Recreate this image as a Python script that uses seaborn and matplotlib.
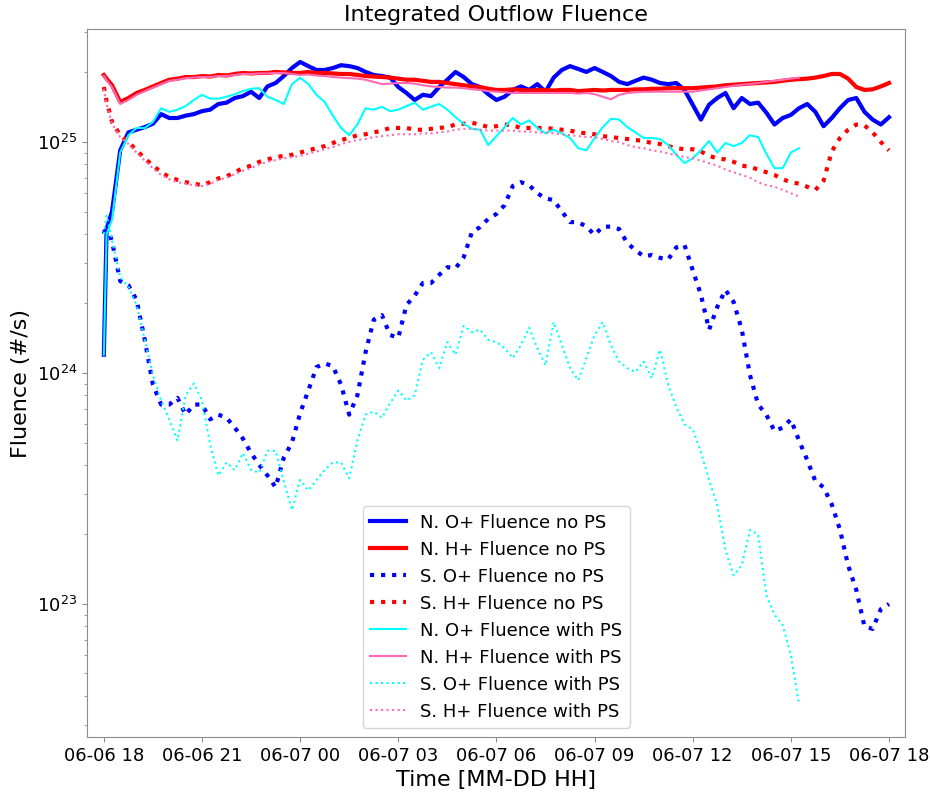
import matplotlib
matplotlib.use("Agg")
import matplotlib.pyplot as plt
import matplotlib.dates as mdates
import pandas as pd
import seaborn as sns

# Sample times: minutes after 06-06 18:00 (first two samples 5 min apart, then every 15 min)
minutes_full = [0, 5] + list(range(15, 24 * 60 + 1, 15))
minutes_ps = [0, 5] + list(range(15, 1275 + 1, 15))

# Fluence values in units of 1e24 #/s
n_o_no_ps = [1.2, 4.2,
             5.0, 9.2, 11.0, 11.3, 11.6, 12.0, 13.2, 12.7, 12.7, 13.0, 13.2, 13.6,
             13.8, 14.6, 14.8, 15.5, 15.8, 16.5, 15.5, 17.4, 18.0, 19.3, 20.9, 22.2,
             21.3, 20.5, 20.5, 20.9, 21.5, 21.3, 20.9, 20.1, 19.5, 19.3, 19.0, 17.3,
             16.3, 15.2, 16.0, 15.8, 17.3, 18.6, 20.1, 19.1, 17.8, 17.3, 16.1, 15.2,
             15.7, 16.8, 17.4, 16.8, 17.8, 16.5, 19.0, 20.5, 21.3, 20.7, 20.1, 20.9,
             20.1, 19.3, 18.2, 17.8, 18.4, 19.0, 18.6, 18.0, 17.8, 18.0, 16.8, 14.5,
             12.5, 14.5, 15.5, 16.3, 14.0, 15.5, 14.6, 14.8, 13.4, 11.9, 12.7, 13.1,
             14.0, 14.6, 13.5, 11.7, 12.7, 14.0, 15.2, 15.5, 13.5, 12.5, 11.9, 12.8]

n_h_no_ps = [19.5, 18.8,
             17.6, 14.9, 15.5, 16.3, 16.8, 17.4, 18.0, 18.6, 18.8, 19.1, 19.1, 19.3,
             19.2, 19.5, 19.4, 19.7, 19.9, 19.8, 19.9, 19.9, 20.1, 20.0, 19.9, 19.9,
             20.1, 19.9, 19.9, 19.8, 19.7, 19.7, 19.5, 19.3, 19.2, 19.1, 19.0, 18.8,
             18.6, 18.6, 18.4, 18.2, 18.2, 18.0, 17.8, 17.6, 17.4, 17.3, 17.0, 16.8,
             16.8, 16.9, 16.8, 16.7, 16.8, 16.8, 16.7, 16.8, 16.8, 16.6, 16.7, 16.8,
             16.7, 16.8, 16.8, 16.8, 16.9, 16.9, 17.0, 17.0, 17.1, 17.1, 17.1, 17.1,
             17.2, 17.3, 17.4, 17.6, 17.7, 17.8, 17.9, 18.0, 18.1, 18.2, 18.4, 18.6,
             18.7, 18.8, 19.0, 19.3, 19.7, 19.7, 18.8, 17.3, 16.8, 16.9, 17.4, 18.0]

s_o_no_ps = [4.0, 4.4,
             3.7, 2.5, 2.4, 2.07, 1.39, 0.89, 0.73, 0.73, 0.78, 0.66, 0.73, 0.73,
             0.63, 0.66, 0.64, 0.58, 0.52, 0.45, 0.40, 0.36, 0.32, 0.43, 0.50, 0.67,
             0.84, 1.06, 1.10, 1.07, 0.89, 0.66, 0.80, 1.23, 1.70, 1.78, 1.46, 1.42,
             1.97, 2.16, 2.45, 2.45, 2.66, 2.87, 2.84, 3.17, 4.07, 4.28, 4.65, 4.88,
             5.33, 6.45, 6.7, 6.5, 6.0, 5.7, 5.6, 5.0, 4.5, 4.5, 4.3, 3.96,
             4.3, 4.3, 4.2, 3.65, 3.4, 3.2, 3.24, 3.15, 3.1, 3.5, 3.58, 2.79,
             2.18, 1.54, 1.93, 2.29, 2.03, 1.54, 0.98, 0.73, 0.66, 0.56, 0.58, 0.63,
             0.51, 0.42, 0.34, 0.32, 0.27, 0.21, 0.147, 0.115, 0.08, 0.078, 0.095, 0.10]

s_h_no_ps = [17.3, 15.0,
             12.2, 10.7, 10.0, 9.2, 8.5, 7.9, 7.4, 7.05, 6.85, 6.7, 6.6, 6.5,
             6.7, 6.95, 7.1, 7.4, 7.7, 7.9, 8.2, 8.4, 8.6, 8.7, 8.8, 9.0,
             9.2, 9.4, 9.6, 9.9, 10.2, 10.4, 10.7, 10.8, 11.0, 11.2, 11.5, 11.5,
             11.5, 11.3, 11.3, 11.4, 11.5, 11.6, 11.9, 12.0, 12.1, 11.9, 11.6, 11.7,
             11.9, 11.8, 11.5, 11.5, 11.5, 11.5, 11.4, 11.3, 11.2, 11.0, 10.9, 10.8,
             10.6, 10.5, 10.4, 10.3, 10.2, 10.1, 9.9, 9.8, 9.6, 9.4, 9.3, 9.3,
             9.1, 8.7, 8.5, 8.4, 8.2, 7.9, 7.8, 7.6, 7.4, 7.2, 6.9, 6.7,
             6.6, 6.4, 6.2, 6.8, 9.1, 10.4, 11.3, 11.9, 11.8, 11.0, 10.0, 9.2]

n_o_with_ps = [1.2, 4.0,
               4.6, 9.0, 10.7, 11.5, 11.5, 12.2, 14.0, 13.5, 13.8, 14.3, 15.2, 16.0,
               15.4, 15.4, 15.7, 16.1, 16.6, 17.0, 17.1, 15.7, 15.2, 14.6, 17.8, 19.0,
               17.8, 16.0, 14.9, 13.0, 11.5, 10.7, 11.9, 14.0, 13.8, 14.2, 13.6, 13.8,
               14.3, 14.8, 13.8, 14.2, 14.6, 13.8, 12.8, 12.0, 11.4, 11.3, 9.7, 10.6,
               11.6, 12.7, 11.9, 12.4, 11.5, 10.9, 11.3, 10.9, 10.4, 9.4, 9.2, 10.4,
               11.6, 12.6, 12.5, 11.6, 11.0, 10.4, 10.4, 10.3, 9.7, 8.8, 8.1, 8.5,
               9.2, 10.1, 9.0, 9.9, 9.6, 9.9, 10.7, 10.5, 8.9, 7.7, 7.7, 9.0,
               9.4]

n_h_with_ps = [19.3, 18.5,
               17.3, 14.6, 15.2, 16.0, 16.6, 17.2, 17.8, 18.4, 18.6, 18.9, 19.0, 19.1,
               19.1, 19.3, 19.3, 19.5, 19.7, 19.7, 19.8, 19.8, 19.9, 19.9, 19.7, 19.5,
               19.6, 19.4, 19.3, 19.1, 19.0, 18.9, 18.8, 18.6, 18.2, 17.8, 17.9, 18.0,
               18.0, 17.9, 17.6, 17.4, 17.3, 17.2, 17.2, 17.1, 16.9, 16.8, 16.6, 16.5,
               16.4, 16.3, 16.3, 16.3, 16.3, 16.3, 16.3, 16.3, 16.3, 16.2, 16.3, 16.1,
               15.7, 15.3, 16.0, 16.3, 16.4, 16.5, 16.5, 16.5, 16.5, 16.5, 16.5, 16.5,
               16.7, 16.9, 17.1, 17.3, 17.5, 17.7, 17.8, 18.0, 18.2, 18.4, 18.6, 18.8,
               19.0]

s_o_with_ps = [4.0, 4.8,
               3.76, 2.6, 2.36, 1.97, 1.39, 0.98, 0.76, 0.63, 0.51, 0.80, 0.90, 0.76,
               0.49, 0.36, 0.41, 0.38, 0.45, 0.38, 0.37, 0.46, 0.46, 0.34, 0.255, 0.344,
               0.31, 0.344, 0.38, 0.41, 0.41, 0.35, 0.51, 0.66, 0.68, 0.64, 0.74, 0.84,
               0.76, 0.80, 1.14, 1.23, 1.05, 1.36, 1.2, 1.6, 1.5, 1.54, 1.39, 1.36,
               1.28, 1.16, 1.32, 1.57, 1.28, 1.08, 1.66, 1.32, 1.05, 0.93, 1.16, 1.46,
               1.66, 1.32, 1.12, 1.05, 1.01, 1.12, 0.95, 1.26, 0.89, 0.71, 0.6, 0.57,
               0.455, 0.344, 0.268, 0.171, 0.133, 0.147, 0.209, 0.2, 0.109, 0.09, 0.081, 0.06,
               0.037]

s_h_with_ps = [17.0, 14.6,
               12.0, 10.5, 9.8, 9.0, 8.3, 7.7, 7.2, 6.9, 6.7, 6.6, 6.5, 6.45,
               6.6, 6.85, 7.0, 7.25, 7.5, 7.7, 8.0, 8.2, 8.35, 8.5, 8.6, 8.7,
               8.9, 9.1, 9.3, 9.5, 9.8, 10.0, 10.2, 10.3, 10.5, 10.6, 10.7, 10.8,
               10.8, 10.8, 10.9, 10.9, 11.0, 11.1, 11.3, 11.4, 11.4, 11.3, 11.2, 11.2,
               11.2, 11.2, 11.1, 11.1, 11.0, 11.0, 10.9, 10.8, 10.7, 10.6, 10.5, 10.5,
               10.3, 10.1, 10.0, 9.7, 9.5, 9.4, 9.2, 9.1, 8.9, 8.8, 8.6, 8.5,
               8.3, 8.1, 7.9, 7.6, 7.4, 7.2, 7.0, 6.7, 6.5, 6.4, 6.2, 6.0,
               5.8]

labels = ["N. O+ Fluence no PS", "N. H+ Fluence no PS",
          "S. O+ Fluence no PS", "S. H+ Fluence no PS",
          "N. O+ Fluence with PS", "N. H+ Fluence with PS",
          "S. O+ Fluence with PS", "S. H+ Fluence with PS"]

start = pd.Timestamp("2015-06-06 18:00")
t_full = start + pd.to_timedelta(minutes_full, unit="min")
t_ps = start + pd.to_timedelta(minutes_ps, unit="min")
scale = 1e24

series = [
    (t_full, n_o_no_ps, "blue", "-", 3.0),
    (t_full, n_h_no_ps, "red", "-", 3.0),
    (t_full, s_o_no_ps, "blue", ":", 3.0),
    (t_full, s_h_no_ps, "red", ":", 3.0),
    (t_ps, n_o_with_ps, "cyan", "-", 1.5),
    (t_ps, n_h_with_ps, "hotpink", "-", 1.5),
    (t_ps, s_o_with_ps, "cyan", ":", 1.5),
    (t_ps, s_h_with_ps, "hotpink", ":", 1.5),
]

fig = plt.figure(figsize=(9.3, 7.93), dpi=100)
ax = fig.add_axes([0.0935, 0.0706, 0.880, 0.8928])

for (t, vals, color, ls, lw), lab in zip(series, labels):
    sns.lineplot(x=t, y=[v * scale for v in vals], ax=ax, color=color,
                 linestyle=ls, linewidth=lw, label=lab)

ax.set_yscale("log")
ax.set_ylim(10 ** 22.424, 10 ** 25.489)
ax.set_xlim(start - pd.Timedelta(minutes=31), start + pd.Timedelta(minutes=24 * 60 + 30))

ax.xaxis.set_major_locator(mdates.HourLocator(byhour=range(0, 24, 3)))
ax.xaxis.set_major_formatter(mdates.DateFormatter("%m-%d %H"))
ax.tick_params(axis="both", which="major", labelsize=13)
ax.tick_params(axis="both", which="both", color="0.55")
for spine in ax.spines.values():
    spine.set_edgecolor("0.55")

ax.set_title("Integrated Outflow Fluence", fontsize=16)
ax.set_xlabel("Time [MM-DD HH]", fontsize=16)
ax.set_ylabel("Fluence (#/s)", fontsize=16)

ax.legend(loc="lower center", fontsize=13)

fig.savefig("out.png", dpi=100)
